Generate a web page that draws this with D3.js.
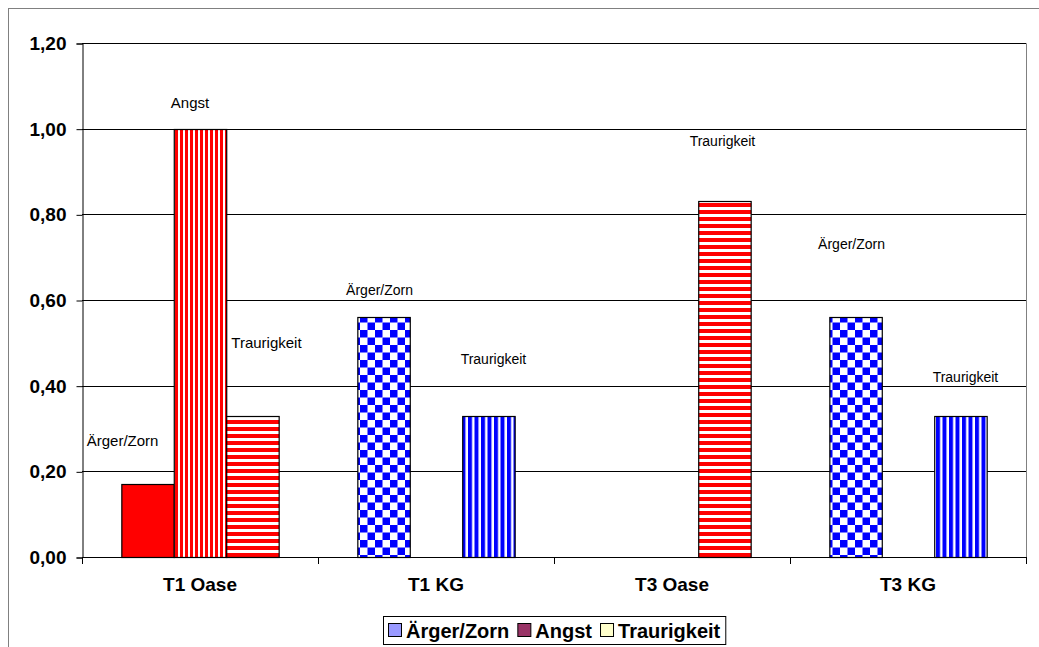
<!DOCTYPE html>
<html>
<head>
<meta charset="utf-8">
<script src="https://cdn.jsdelivr.net/npm/d3@7"></script>
<style>
  html, body { margin: 0; padding: 0; background: #fff; }
  svg { display: block; font-family: "Liberation Sans", Arial, sans-serif; }
</style>
</head>
<body>
<svg id="chart" width="1039" height="647"></svg>
<script>
// Categories, series and values
const categories = ["T1 Oase", "T1 KG", "T3 Oase", "T3 KG"];
const seriesNames = ["Ärger/Zorn", "Angst", "Traurigkeit"];
const aergerValues = [0.17, 0.56, 0.00, 0.56];
const angstValues = [1.00, 0.00, 0.00, 0.00];
const traurigkeitValues = [0.33, 0.33, 0.83, 0.33];
const yTicks = [0, 0.2, 0.4, 0.6, 0.8, 1.0, 1.2];
const legendColors = ["#9999FF", "#993366", "#FFFFCC"];

// Label nudges (dx from bar centre, dy from bar top to baseline) and font sizes
const labelNudges = [
  [[-25, -38], [-10, -21], [14, -68]],
  [[-4, -22], [0, -20], [5, -52]],
  [[0, -20], [0, -20], [-2, -55]],
  [[-4, -68], [0, -20], [5, -34]]
];
const labelSizes = [15, 14, 14, 14];

const valuesBySeries = [aergerValues, angstValues, traurigkeitValues];

const svg = d3.select("#chart");
const plot = { left: 82, top: 43, right: 1026, bottom: 557 };

// Fill patterns
const defs = svg.append("defs");
function stripePattern(id, color, w, h, rect) {
  const p = defs.append("pattern").attr("id", id)
    .attr("patternUnits", "userSpaceOnUse").attr("width", w).attr("height", h);
  p.append("rect").attr("width", w).attr("height", h).attr("fill", "#fff");
  rect.forEach(r => p.append("rect").attr("x", r[0]).attr("y", r[1])
    .attr("width", r[2]).attr("height", r[3]).attr("fill", color));
}
stripePattern("redVert", "#FF0000", 5, 10, [[0, 0, 3, 10]]);
stripePattern("redHoriz", "#FF0000", 10, 7, [[0, 0, 10, 4]]);
stripePattern("blueCheck", "#0000FF", 15, 15, [[0, 0, 7.5, 7.5], [7.5, 7.5, 7.5, 7.5]]);
stripePattern("blueVert", "#0000FF", 6.5, 10, [[0, 0, 4, 10]]);

function fillFor(ci, si) {
  const kg = categories[ci].includes("KG");
  if (si === 0) return kg ? "url(#blueCheck)" : "#FF0000";
  if (si === 1) return kg ? "url(#blueVert)" : "url(#redVert)";
  return kg ? "url(#blueVert)" : "url(#redHoriz)";
}

// Outer chart frame
svg.append("rect").attr("x", 8.5).attr("y", 8.5).attr("width", 1100).attr("height", 700)
  .attr("fill", "none").attr("stroke", "#808080").attr("stroke-width", 1);

// Scales
const x0 = d3.scaleBand().domain(categories).range([plot.left, plot.right]).padding(0);
const x1 = d3.scaleBand().domain(seriesNames).range([0, x0.bandwidth()])
  .paddingInner(0).paddingOuter(0.75);
const y = d3.scaleLinear().domain([0, 1.2]).range([plot.bottom, plot.top]);

// Plot area border (top/right)
svg.append("path")
  .attr("d", `M${plot.left},${plot.top + 0.5}H${plot.right + 0.5}V${plot.bottom}`)
  .attr("fill", "none").attr("stroke", "#808080");

// Gridlines
svg.append("g").selectAll("line").data(yTicks.filter(t => t > 0)).join("line")
  .attr("x1", plot.left).attr("x2", plot.right)
  .attr("y1", d => Math.round(y(d)) + 0.5).attr("y2", d => Math.round(y(d)) + 0.5)
  .attr("stroke", "#000").attr("stroke-width", 1);

// Bars
const rows = [];
categories.forEach((c, ci) => seriesNames.forEach((s, si) => {
  rows.push({ c, ci, s, si, v: valuesBySeries[si][ci] });
}));
const bars = rows.filter(d => d.v > 0);
svg.append("g").selectAll("rect").data(bars).join("rect")
  .attr("x", d => x0(d.c) + x1(d.s) + 0.5)
  .attr("y", d => Math.round(y(d.v)) + 0.5)
  .attr("width", x1.bandwidth())
  .attr("height", d => Math.round(y(0)) - Math.round(y(d.v)))
  .attr("fill", d => fillFor(d.ci, d.si))
  .attr("stroke", "#000").attr("stroke-width", 1.2);

// Data labels (series names)
svg.append("g").selectAll("text").data(bars).join("text")
  .attr("x", d => x0(d.c) + x1(d.s) + x1.bandwidth() / 2 + labelNudges[d.ci][d.si][0])
  .attr("y", d => y(d.v) + labelNudges[d.ci][d.si][1])
  .attr("text-anchor", "middle")
  .attr("font-size", d => labelSizes[d.ci])
  .attr("fill", "#000")
  .text(d => d.s);

// Y axis
const yAxis = d3.axisLeft(y).tickValues(yTicks).tickSize(6).tickPadding(10)
  .tickFormat(d => d3.format(".2f")(d).replace(".", ","));
const yg = svg.append("g").attr("transform", `translate(${plot.left + 0.5},0.5)`).call(yAxis);
yg.select(".domain").attr("stroke", "#000");
yg.selectAll(".tick line").attr("stroke", "#000");
yg.selectAll(".tick text").attr("font-size", 19).attr("font-weight", "bold")
  .attr("font-family", "'Liberation Sans', Arial, sans-serif").attr("fill", "#000");

// X axis (category ticks at group boundaries)
const xg = svg.append("g");
xg.append("line").attr("x1", plot.left).attr("x2", plot.right + 0.5)
  .attr("y1", y(0) + 0.5).attr("y2", y(0) + 0.5).attr("stroke", "#000");
const bounds = categories.map(c => x0(c)).concat([plot.right]);
xg.selectAll("line.tk").data(bounds).join("line").attr("class", "tk")
  .attr("x1", d => Math.round(d) + 0.5).attr("x2", d => Math.round(d) + 0.5)
  .attr("y1", y(0)).attr("y2", y(0) + 7).attr("stroke", "#000");
xg.selectAll("text").data(categories).join("text")
  .attr("x", d => x0(d) + x0.bandwidth() / 2)
  .attr("y", 591)
  .attr("text-anchor", "middle")
  .attr("font-size", 19).attr("font-weight", "bold")
  .text(d => d);

// Legend
const lg = svg.append("g");
const box = lg.append("rect").attr("fill", "#fff").attr("stroke", "#000").attr("stroke-width", 1);
let cx = 5;
const items = lg.append("g");
seriesNames.forEach((s, i) => {
  items.append("rect").attr("x", cx + 0.5).attr("y", 623.5).attr("width", 13).attr("height", 13)
    .attr("fill", legendColors[i]).attr("stroke", "#000");
  cx += 18;
  const t = items.append("text").attr("x", cx).attr("y", 638)
    .attr("font-size", 20).attr("font-weight", "bold").text(s);
  cx += t.node().getComputedTextLength() + 8;
});
const legendW = cx - 3;
const legendX = Math.round((plot.left + plot.right) / 2 - legendW / 2);
items.attr("transform", `translate(${legendX},0)`);
box.attr("x", legendX + 0.5).attr("y", 616.5).attr("width", legendW).attr("height", 28);
</script>
</body>
</html>
